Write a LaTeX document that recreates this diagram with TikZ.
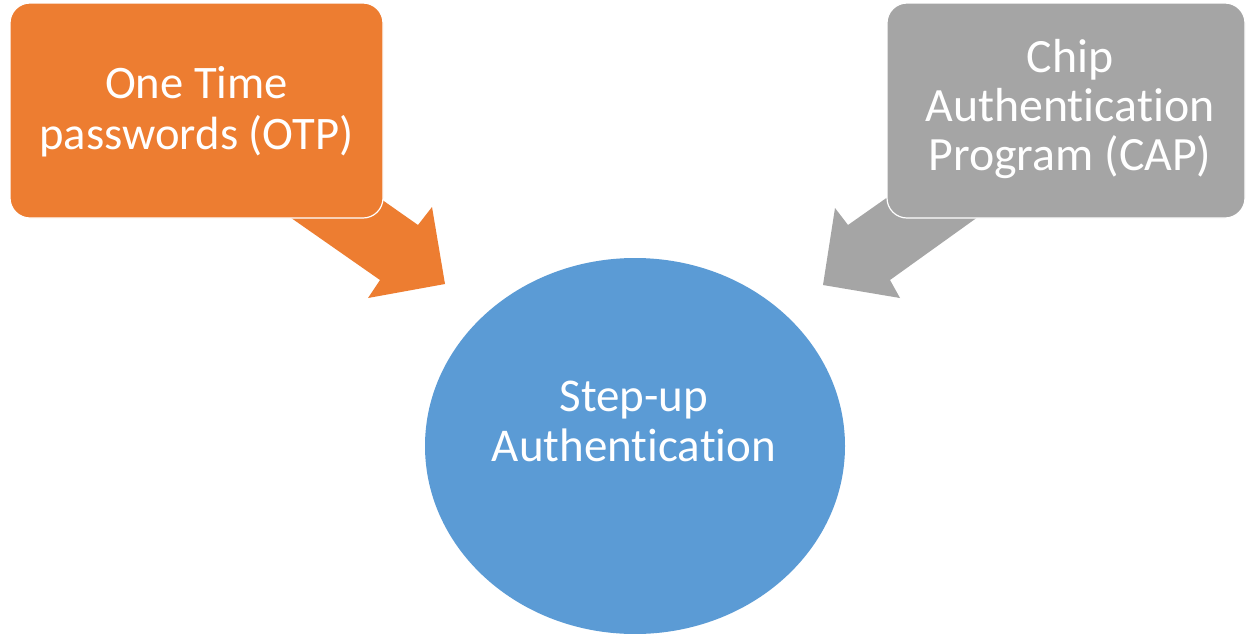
\documentclass[tikz,border=0pt]{standalone}
\usepackage{fontspec}
\usetikzlibrary{shapes.geometric}
\setmainfont{Carlito}[Ligatures=NoCommon]
\definecolor{otporange}{HTML}{ED7D31}
\definecolor{capgrey}{HTML}{A5A5A5}
\definecolor{stepblue}{HTML}{5B9BD5}
\begin{document}
\begin{tikzpicture}[x=0.5pt,y=-0.5pt,
  sourcebox/.style={draw=white, line width=0.6pt, rounded corners=10pt},
  label/.style={text=white, align=center, inner sep=0pt},
]
\useasboundingbox (0,0) rectangle (1248,633);
\fill[white] (0,0) rectangle (1248,633);

% central ellipse
\node[ellipse, fill=stepblue, minimum width=210pt, minimum height=188pt, inner sep=0pt] (hub) at (635,446) {};

% block arrows pointing into the hub
\fill[otporange] (211,162) -- (380,280) -- (368,298) -- (445,284) -- (432,207) -- (418,225) -- (254,110) -- cycle;
\fill[capgrey] (966,142) -- (848,225) -- (835,208) -- (823,285) -- (900,298) -- (890,280) -- (1056,161) -- cycle;

% source boxes
\node[sourcebox, fill=otporange, minimum width=186.5pt, minimum height=107.5pt, inner sep=0pt] (otp) at (196.5,110.5) {};
\node[sourcebox, fill=capgrey, minimum width=179pt, minimum height=107.5pt, inner sep=0pt] (cap) at (1066,110.5) {};

% labels
\node[label, font=\fontsize{23.3}{25.5}\selectfont] (otptext) at ([yshift=-0.5pt]otp.center) {One Time\\passwords (OTP)};
\node[label, font=\fontsize{23.9}{24.5}\selectfont] (captext) at ([xshift=2pt,yshift=0.5pt]cap.center) {Chip\\Authentication\\Program (CAP)};
\node[label, font=\fontsize{23.5}{25}\selectfont] (hubtext) at (634,421) {Step-up\\Authentication};
\end{tikzpicture}
\end{document}
